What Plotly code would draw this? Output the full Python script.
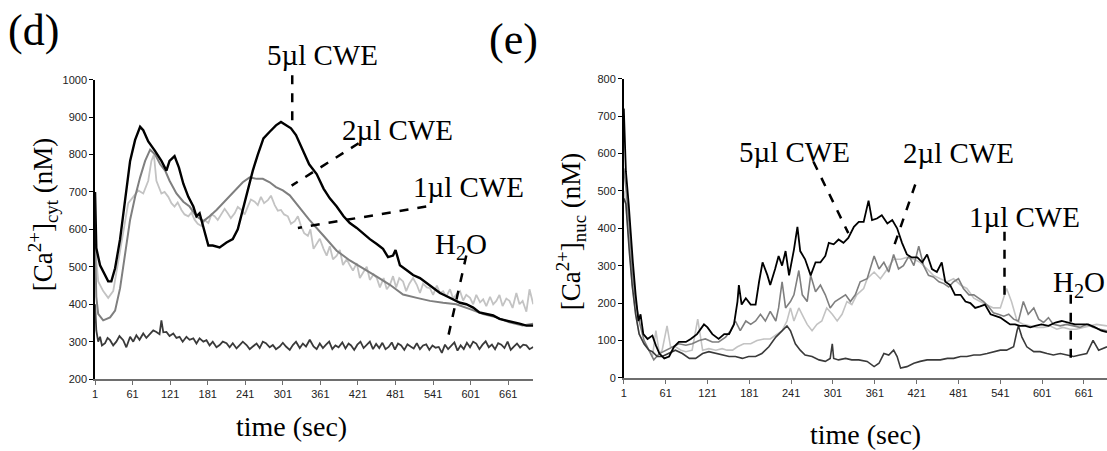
import plotly.graph_objects as go

W, H = 1107, 451

# ---------------- panel (d): cytosolic ----------------
d5_t = [1,3,9,17,22,27,33,41,49,57,65,73,78,86,97,107,115,120,128,135,142,150,158,163,168,174,182,189,200,211,
        221,229,237,245,253,261,270,280,290,298,306,314,322,333,343,355,366,376,387,398,408,419,430,440,451,461,469,477,481,488,
        499,509,520,530,541,552,562,573,584,594,605,615,626,637,647,658,668,679,690,701]
d5_v = [700,550,504,478,461,461,496,574,687,783,839,874,865,835,809,783,757,783,796,765,722,687,661,635,643,609,557,557,552,565,
        574,600,652,704,757,800,843,861,878,887,878,870,852,809,774,748,709,683,661,635,617,604,587,574,561,548,526,530,545,504,
        491,478,470,457,443,430,422,413,404,400,391,378,374,370,361,357,352,348,343,343]

d2_t = [1,3,6,14,25,33,41,49,57,65,73,81,89,97,105,113,120,131,142,152,163,174,184,195,205,216,227,237,248,259,
        269,280,290,301,312,322,333,343,366,387,408,430,451,472,493,515,536,557,578,600,621,642,663,684,701]
d2_v = [560,420,374,357,365,383,443,530,626,687,739,783,813,800,774,757,730,696,674,661,635,622,635,652,670,687,709,726,739,735,
        735,726,713,704,691,670,648,626,583,543,517,496,474,452,426,417,409,404,400,387,374,365,352,343,348]

d1_t = [1,6,14,22,30,38,46,54,62,70,78,86,91,95,99,103,107,112,118,123,128,133,139,144,150,155,160,165,171,176,
        182,187,192,197,203,208,213,218,224,229,235,240,245,250,256,261,266,271,277,282,288,293,298,303,309,314,320,325,330,335,
        341,345,350,355,360,366,371,376,381,387,392,397,403,408,413,419,424,430,435,440,446,451,456,462,467,472,477,482,487,493,
        498,503,509,515,520,525,531,536,541,547,552,557,562,568,573,578,584,589,594,600,605,610,616,621,626,632,637,642,647,652,
        658,663,668,674,679,684,690,695,701]
d1_v = [560,461,435,417,435,513,600,670,687,704,696,730,783,800,730,715,696,700,687,670,661,672,652,640,635,645,626,615,609,625,
        617,640,635,625,643,655,643,630,643,660,652,640,661,680,674,665,687,670,678,690,665,650,652,640,635,615,622,635,609,590,
        583,600,548,560,575,548,530,555,520,530,545,505,520,504,490,510,470,487,500,465,480,470,445,470,440,452,475,445,470,461,
        435,455,470,452,430,455,445,443,425,450,430,435,420,440,415,426,435,410,425,417,400,425,405,413,395,420,400,409,425,395,
        415,409,390,430,400,409,380,440,400]

dw_t = [1,3,6,9,12,17,21,25,30,35,40,46,51,57,62,67,72,78,83,89,94,99,104,107,110,115,120,126,131,136,
        141,147,152,158,163,168,174,179,184,189,195,200,205,211,216,221,227,232,237,243,248,253,259,264,269,274,280,285,290,296,
        301,306,312,317,322,328,333,338,344,350,355,360,365,370,375,380,385,390,396,401,406,410,415,420,425,430,435,440,445,450,
        455,460,465,470,475,480,485,490,495,500,505,510,515,520,525,530,535,540,545,550,555,560,565,570,575,580,585,590,595,600,
        605,610,615,620,625,630,635,640,645,650,655,660,665,670,675,680,685,690,695,701]
dw_v = [400,330,300,313,290,296,310,304,290,300,315,304,285,313,300,317,305,322,310,322,330,326,320,357,325,326,315,322,310,313,
        300,313,305,309,295,309,300,304,290,300,285,291,300,296,285,296,282,291,300,291,280,287,295,283,300,296,285,291,280,287,
        297,287,278,291,300,283,295,287,305,287,280,295,283,292,300,280,290,285,298,282,295,290,278,292,300,283,291,300,280,294,
        283,297,280,286,298,279,295,290,278,293,287,282,296,280,290,293,278,290,284,286,270,292,280,288,298,276,290,280,297,285,
        300,295,280,292,301,285,292,280,296,292,283,300,278,287,295,284,292,290,280,286]

# ---------------- panel (e): nuclear ----------------
e5_t = [1,4,8,11,14,18,22,25,29,35,42,47,52,59,66,73,80,90,97,106,116,121,128,137,145,152,159,164,166,170,
        176,183,190,195,200,207,211,218,223,228,233,238,245,250,254,261,269,276,283,290,295,302,309,316,323,331,338,345,352,357,
        364,371,379,386,393,400,407,414,422,429,436,443,450,457,462,469,476,484,491,498,505,512,519,527,534,541,548,555,562,569,
        577,584,591,600,610,620,629,639,648,658,667,677,686,694]
e5_v = [720,552,465,378,309,222,152,170,117,104,113,87,65,52,57,83,96,96,104,117,143,135,117,104,117,117,143,204,248,196,
        213,196,196,257,309,274,248,291,326,300,339,274,343,404,339,317,274,309,309,326,361,357,370,361,374,404,417,417,474,422,
        426,435,413,422,400,361,330,322,322,309,330,291,283,309,257,248,222,222,204,200,187,191,196,170,165,161,152,143,143,139,
        139,135,139,143,139,148,152,148,143,143,143,135,126,122]

e2_t = [1,4,9,13,18,23,30,37,44,52,61,71,80,90,99,109,118,128,137,147,154,161,168,176,183,190,197,204,211,219,
        223,228,233,240,245,252,257,264,269,276,283,290,297,304,312,319,326,333,340,350,360,367,374,381,388,395,402,410,417,424,
        431,438,445,453,460,467,474,481,488,496,503,510,517,524,531,538,546,553,560,567,574,581,589,596,603,610,617,627,636,646,
        655,665,674,684,694]
e2_v = [560,509,404,291,204,152,100,74,48,65,74,83,91,87,91,100,104,96,96,109,126,152,126,152,143,152,170,152,178,152,
        187,257,187,204,222,287,222,204,274,230,248,222,187,204,213,222,204,222,257,265,326,291,309,283,330,291,300,326,300,352,
        300,274,270,257,252,243,257,265,239,222,222,213,204,191,174,170,165,170,157,152,204,170,187,157,148,161,143,139,143,139,
        135,143,135,130,126]

e1_t = [1,4,9,13,18,23,30,37,42,47,52,56,63,68,75,83,90,99,107,114,123,133,142,149,157,164,173,183,192,202,
        211,221,228,235,240,245,252,259,264,271,278,285,292,300,307,314,321,328,335,345,350,360,369,379,388,398,407,417,426,436,
        445,455,465,474,484,493,503,512,522,531,541,550,557,565,574,584,593,603,612,622,631,641,650,660,670,679,694]
e1_v = [500,465,352,248,170,117,91,74,57,126,65,74,139,83,83,74,70,74,157,74,78,74,78,74,74,83,91,91,100,104,
        104,117,126,152,187,152,187,161,143,126,143,152,187,170,152,170,204,196,222,239,265,283,265,291,317,317,322,317,309,291,
        274,265,257,265,248,239,213,204,196,187,187,239,204,152,143,139,135,135,139,130,135,130,130,135,139,143,139]

ew_t = [1,4,9,13,18,23,30,37,42,49,56,66,75,85,95,104,114,123,133,142,152,161,171,180,190,199,209,219,228,235,
        240,247,254,261,271,281,290,297,300,302,309,319,328,338,350,360,367,374,381,388,393,398,407,417,426,436,445,455,465,474,
        484,493,503,512,522,531,541,550,560,565,567,572,579,589,598,608,617,627,636,646,655,665,674,682,694]
ew_v = [480,465,335,248,170,117,91,74,70,57,57,65,74,65,52,52,65,70,65,61,57,57,52,57,57,65,83,109,126,139,
        126,91,74,61,57,48,44,52,91,52,48,52,48,48,44,30,39,65,61,74,57,26,30,39,44,48,48,48,52,52,
        57,57,61,61,65,70,74,74,83,126,139,109,83,70,70,65,61,65,61,57,61,65,100,74,83]

x_ticks = [1, 61, 121, 181, 241, 301, 361, 421, 481, 541, 601, 661]
d_yticks = [200, 300, 400, 500, 600, 700, 800, 900, 1000]
e_yticks = [0, 100, 200, 300, 400, 500, 600, 700, 800]

labels = ["5\u00b5l CWE", "2\u00b5l CWE", "1\u00b5l CWE", "H<sub>2</sub>O"]

C5, C2, C1, CW = "#000000", "#7f7f7f", "#c3c3c3", "#3a3a3a"

fig = go.Figure()
for t, v, c, w in [(d1_t, d1_v, C1, 1.8), (d2_t, d2_v, C2, 2.0), (dw_t, dw_v, CW, 1.8), (d5_t, d5_v, C5, 2.4)]:
    fig.add_trace(go.Scatter(x=t, y=v, mode="lines", line=dict(color=c, width=w),
                             xaxis="x", yaxis="y", showlegend=False))
for t, v, c, w in [(e1_t, e1_v, C1, 1.6), (e2_t, e2_v, C2, 1.6), (ew_t, ew_v, CW, 1.6), (e5_t, e5_v, C5, 1.8)]:
    fig.add_trace(go.Scatter(x=t, y=v, mode="lines", line=dict(color=c, width=w),
                             xaxis="x2", yaxis="y2", showlegend=False))

def px(x):
    return x / W

def py(y):
    return 1 - y / H

D_TOP, D_BOT = 75.7, 383.3
def d_ypx(v):
    return D_BOT - (v - 200) / 800 * (D_BOT - D_TOP)

tickfont = dict(family="Liberation Sans, Arial", size=11, color="#222")
serif = "Liberation Serif, Times New Roman"

xa = dict(range=[1, 701], tickvals=x_ticks, ticktext=[str(v) for v in x_ticks],
          showgrid=False, zeroline=False, showline=True, linecolor="#6e6e6e", linewidth=1.5,
          ticks="outside", ticklen=4, tickcolor="#6e6e6e", tickfont=tickfont)
ya = dict(showgrid=False, zeroline=False, showline=True, linecolor="#000", linewidth=1.5,
          ticks="outside", ticklen=4, tickcolor="#000", tickfont=tickfont)

fig.update_layout(
    width=W, height=H, margin=dict(l=0, r=0, t=0, b=0),
    paper_bgcolor="white", plot_bgcolor="white",
    xaxis=dict(xa, domain=[px(92.3), px(531.7)], anchor="y"),
    yaxis=dict(ya, domain=[py(D_BOT), py(D_TOP)], range=[200, 1000], tickvals=d_yticks, anchor="x"),
    xaxis2=dict(xa, domain=[px(622.5), 1.0], range=[1, 694], anchor="y2"),
    yaxis2=dict(ya, domain=[py(382.0), py(74.7)], range=[0, 800], tickvals=e_yticks, anchor="x2"),
)

ann = []
def txt(x, y, s, size, xref="paper", yref="paper", angle=0):
    ann.append(dict(x=x, y=y, xref=xref, yref=yref, text=s, showarrow=False, textangle=angle,
                    xanchor="center", yanchor="middle", font=dict(family=serif, size=size, color="#000")))

txt(px(31), py(25), "(d)", 44)
txt(px(512), py(34), "(e)", 44)
txt(px(40), py(214), "[Ca<sup>2+</sup>]<sub>cyt</sub> (nM)", 27, angle=-90)
txt(px(569), py(231), "[Ca<sup>2+</sup>]<sub>nuc</sub> (nM)", 27, angle=-90)
txt(px(289), py(432), "time (sec)", 28)
txt(px(865), py(440), "time (sec)", 28)

# panel (d) labels; the 5ul label sits above the plotting range
d_lab_pos = [(365, 1065), (484, 865), (597, 713), (586, 555)]
for (x, y), s in zip(d_lab_pos, labels):
    xp = 92.3 + (x - 1) / 700 * (531.7 - 92.3)
    txt(px(xp), py(d_ypx(y)), s, 29)
e_lab_pos = [(246, 603), (481, 600), (575, 430), (654, 250)]
for (x, y), s in zip(e_lab_pos, labels):
    txt(x, y, s, 29, "x2", "y2")
fig.update_layout(annotations=ann)

d_leaders = [((316, 1012), (316, 868)), ((422, 830), (315, 717)), ((530, 661), (325, 604)), ((594, 530), (565, 313))]
e_leaders = [((273, 578), (323, 387)), ((419, 517), (386, 339)), ((547, 391), (547, 222)), ((642, 222), (642, 48))]
for (a, b) in d_leaders:
    fig.add_shape(type="line", xref="x", yref="paper", x0=a[0], y0=py(d_ypx(a[1])), x1=b[0], y1=py(d_ypx(b[1])),
                  line=dict(color="#000", width=2.5, dash="dash"))
for (a, b) in e_leaders:
    fig.add_shape(type="line", xref="x2", yref="y2", x0=a[0], y0=a[1], x1=b[0], y1=b[1],
                  line=dict(color="#000", width=2.5, dash="dash"))

fig.write_html("out.html", config={"displayModeBar": False},
               post_script="document.body.style.margin='0px';document.body.style.overflow='hidden';")
